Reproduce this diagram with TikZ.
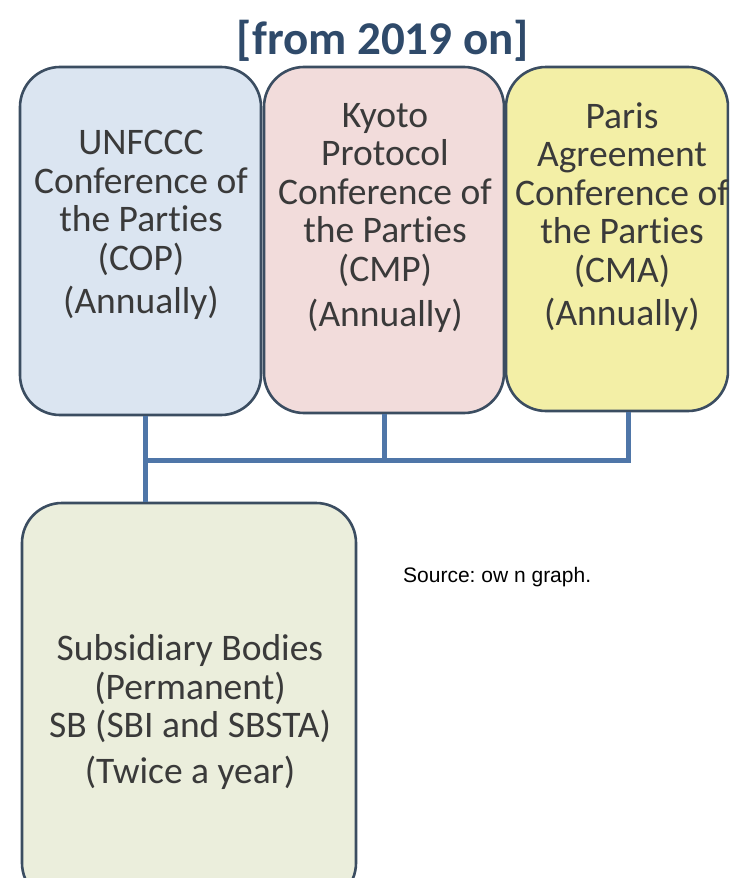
\documentclass[tikz,border=0pt]{standalone}
\usepackage{fontspec}
\setmainfont{Carlito}[Ligatures={NoCommon}]
\newfontfamily\srcfont{Liberation Sans}
\definecolor{bordercol}{HTML}{3B4D61}
\definecolor{conncol}{HTML}{4F76A8}
\definecolor{txtcol}{HTML}{3A3A3A}
\definecolor{titlecol}{HTML}{2F4A6A}
\definecolor{bluefill}{HTML}{DBE5F1}
\definecolor{pinkfill}{HTML}{F2DCDB}
\definecolor{yellowfill}{HTML}{F3EFA6}
\definecolor{greenfill}{HTML}{EBEEDC}
\tikzset{
  box/.style={draw=bordercol, line width=2.6pt, rounded corners=40pt, inner sep=0pt},
  boxtext/.style={text=txtcol, align=center, inner sep=0pt, font=\fontsize{37.5}{38.5}\selectfont},
  conn/.style={draw=conncol, line width=5pt},
}
\begin{document}
\frenchspacing
\begin{tikzpicture}[x=1pt,y=-1pt]
\useasboundingbox (0,0) rectangle (729,878);
\clip (0,0) rectangle (729,878);
\fill[white] (0,0) rectangle (729,878);
\node[text=titlecol, font=\fontsize{47}{52}\selectfont\bfseries, inner sep=0pt] (title) at (383,41) {[from 2019 on]};
\node[box, fill=bluefill, minimum width=241pt, minimum height=348pt] (b1) at (140.5,241) {};
\node[box, fill=pinkfill, minimum width=240pt, minimum height=346pt] (b2) at (384,240) {};
\node[box, fill=yellowfill, minimum width=222pt, minimum height=344pt] (b3) at (617,239) {};
\node[box, fill=greenfill, minimum width=334pt, minimum height=400pt] (sb) at (189,703) {};
\node[boxtext] (t1) at (141,225) {UNFCCC\\Conference of\\the Parties\\(COP)\\[5pt](Annually)};
\node[boxtext] (t2) at (385,218) {Kyoto\\Protocol\\Conference of\\the Parties\\(CMP)\\[7pt](Annually)};
\node[boxtext] (t3) at (622,217) {Paris\\Agreement\\Conference of\\the Parties\\(CMA)\\[5pt](Annually)};
\node[boxtext] (t4) at (190,712) {Subsidiary Bodies\\(Permanent)\\SB (SBI and SBSTA)\\[7pt](Twice a year)};
\node[font=\srcfont\fontsize{21}{24}\selectfont, text=black, inner sep=0pt, anchor=west] (src) at (403,577) {Source: ow n graph.};
\coordinate (j1) at (145,460);
\coordinate (j3) at (628,460);
\draw[conn] (b1.south -| j1) -- (sb.north -| j1);
\draw[conn] (b2.south) -- (b2.south |- j1);
\draw[conn] (b3.south -| j3) -- (j3);
\draw[conn, line cap=rect] (j1) -- (j3);
\end{tikzpicture}
\end{document}
